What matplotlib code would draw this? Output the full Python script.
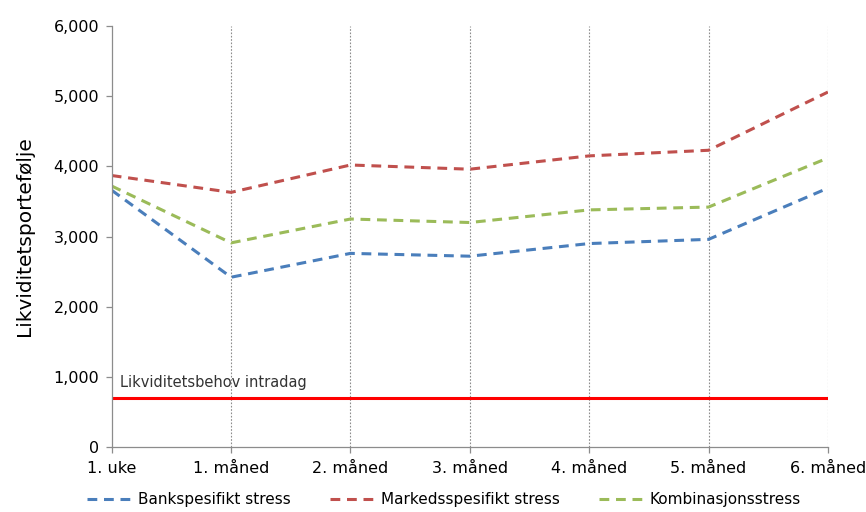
import matplotlib
matplotlib.use("Agg")
import matplotlib.pyplot as plt
from matplotlib.ticker import FuncFormatter

# Data
periods = ["1. uke", "1. måned", "2. måned", "3. måned", "4. måned", "5. måned", "6. måned"]
bankspesifikt = [3660, 2420, 2760, 2720, 2900, 2960, 3690]
markedsspesifikt = [3870, 3630, 4020, 3960, 4150, 4230, 5060]
kombinasjon = [3720, 2910, 3250, 3200, 3380, 3420, 4120]
behov_intradag = 700

x = list(range(len(periods)))

fig = plt.figure(figsize=(8.66, 5.12), dpi=100)
ax = fig.add_axes([0.129, 0.127, 0.827, 0.822])

dash = (0, (3.2, 2.2))
ax.plot(x, bankspesifikt, color="#4a7ebb", lw=2.2, ls=dash, label="Bankspesifikt stress")
ax.plot(x, markedsspesifikt, color="#c0504d", lw=2.2, ls=dash, label="Markedsspesifikt stress")
ax.plot(x, kombinasjon, color="#9bbb59", lw=2.2, ls=dash, label="Kombinasjonsstress")

# Intraday need as a flat red line
ax.plot([x[0], x[-1]], [behov_intradag, behov_intradag], color="#ff0000", lw=2.2)
ax.text(0.07, behov_intradag + 150, "Likviditetsbehov intradag", fontsize=10.5, color="#333333")

ax.set_xlim(0, len(periods) - 1)
ax.set_ylim(0, 6000)
ax.set_yticks(range(0, 6001, 1000))
ax.yaxis.set_major_formatter(FuncFormatter(lambda v, p: f"{int(v):,}"))
ax.set_xticks(x)
ax.set_xticklabels(periods)

# Dotted vertical gridlines at each category
for xi in x[1:]:
    ax.axvline(xi, color="#8c8c8c", lw=0.8, ls=(0, (1.5, 1.5)), zorder=0)

for s in ["top", "right"]:
    ax.spines[s].set_visible(False)
for s in ["left", "bottom"]:
    ax.spines[s].set_color("#8c8c8c")
    ax.spines[s].set_linewidth(0.9)

ax.tick_params(axis="both", colors="#8c8c8c", labelcolor="black", labelsize=11.5, length=4, width=0.9)
ax.tick_params(axis="y", pad=5)
ax.tick_params(axis="x", pad=6)

ax.set_ylabel("Likviditetsportefølje", fontsize=14.5, labelpad=14)

fig.legend(handles=ax.get_lines()[:3], loc="center", bbox_to_anchor=(0.513, 0.024), ncol=3,
           frameon=False, fontsize=11, handlelength=3.0, handletextpad=0.3, columnspacing=2.6)

fig.savefig("out.png", dpi=100)
